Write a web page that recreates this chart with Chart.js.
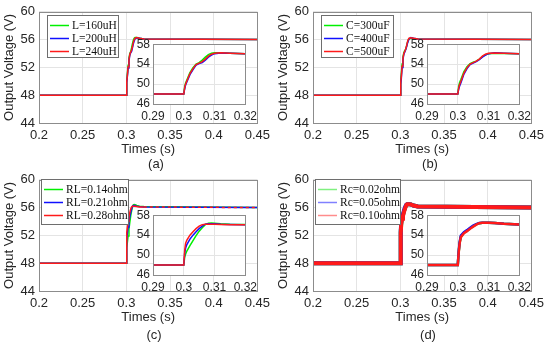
<!DOCTYPE html>
<html>
<head>
<meta charset="utf-8">
<script src="https://cdn.jsdelivr.net/npm/chart.js@4.4.1/dist/chart.umd.min.js"></script>
<style>
  body { margin: 0; background: #fff; }
  #fig { position: relative; width: 550px; height: 345px; overflow: hidden; }
  canvas { position: absolute; }
  .cap { position: absolute; width: 40px; text-align: center; font: 13px "Liberation Sans", Arial, sans-serif; line-height: 16px; color: #262626; }
</style>
</head>
<body>
<div id="fig">
  <canvas id="mainA" width="275" height="172" style="left:0px;top:0px"></canvas>
  <canvas id="mainB" width="275" height="172" style="left:274px;top:0px"></canvas>
  <canvas id="mainC" width="275" height="172" style="left:0px;top:168px"></canvas>
  <canvas id="mainD" width="275" height="172" style="left:274px;top:168px"></canvas>
  <canvas id="insetA" width="135" height="92" style="left:127px;top:34px"></canvas>
  <canvas id="insetB" width="135" height="92" style="left:401px;top:34px"></canvas>
  <canvas id="insetC" width="135" height="92" style="left:127px;top:205px"></canvas>
  <canvas id="insetD" width="135" height="92" style="left:401px;top:205px"></canvas>
  <div class="cap" id="capA" style="left:136px;top:156px"></div>
  <div class="cap" id="capB" style="left:410px;top:156px"></div>
  <div class="cap" id="capC" style="left:134px;top:327px"></div>
  <div class="cap" id="capD" style="left:408px;top:327px"></div>
</div>
<script>
// time points (s) shared by every series
var times = [0.2, 0.3, 0.3003, 0.3006, 0.301, 0.302, 0.303, 0.304, 0.305, 0.306, 0.307, 0.308, 0.309, 0.310, 0.312, 0.315, 0.32, 0.45];

// (a) inductance
var labelsA = ['L=160uH', 'L=200uH', 'L=240uH'];
var vL160 = [48, 48, 49.5, 50.2, 50.8, 52.3, 53.3, 54.0, 54.3, 54.8, 55.4, 55.9, 56.2, 56.3, 56.3, 56.2, 56.1, 56.0];
var vL200 = [48, 48, 49.1, 49.8, 50.4, 51.9, 52.9, 53.8, 54.1, 54.3, 54.8, 55.4, 55.8, 56.1, 56.25, 56.2, 56.1, 56.0];
var vL240 = [48, 48, 49.3, 50.0, 50.6, 52.1, 53.1, 53.9, 54.2, 54.5, 55.0, 55.6, 56.0, 56.2, 56.3, 56.2, 56.1, 56.0];

// (b) capacitance
var labelsB = ['C=300uF', 'C=400uF', 'C=500uF'];
var vC300 = [48, 48, 49.6, 50.3, 50.9, 52.5, 53.5, 54.1, 54.4, 54.6, 55.0, 55.5, 55.9, 56.1, 56.2, 56.15, 56.1, 56.0];
var vC400 = [48, 48, 49.0, 49.6, 50.2, 52.0, 53.1, 53.9, 54.2, 54.5, 54.9, 55.4, 55.8, 56.1, 56.3, 56.2, 56.1, 56.0];
var vC500 = [48, 48, 49.2, 49.9, 50.5, 52.2, 53.3, 54.0, 54.3, 54.6, 55.0, 55.6, 56.0, 56.2, 56.25, 56.2, 56.1, 56.0];

// (c) inductor resistance
var labelsC = ['RL=0.14ohm', 'RL=0.21ohm', 'RL=0.28ohm'];
var vRL14 = [48, 48, 49.6, 50.2, 50.8, 51.9, 52.9, 53.9, 54.8, 55.5, 56.1, 56.4, 56.45, 56.4, 56.3, 56.2, 56.15, 56.0];
var vRL21 = [48, 48, 50.4, 51.4, 52.1, 53.2, 54.0, 54.7, 55.3, 55.8, 56.2, 56.3, 56.3, 56.3, 56.2, 56.15, 56.1, 56.0];
var vRL28 = [48, 48, 51.0, 52.4, 53.0, 54.0, 54.7, 55.3, 55.8, 56.1, 56.2, 56.2, 56.2, 56.2, 56.15, 56.1, 56.1, 56.0];

// (d) capacitor resistance
var labelsD = ['Rc=0.02ohm', 'Rc=0.05ohm', 'Rc=0.10ohm'];
var vRc02 = [48, 48, 50.6, 52.4, 53.7, 54.5, 54.9, 55.4, 55.8, 56.15, 56.4, 56.5, 56.5, 56.5, 56.45, 56.3, 56.15, 56.0];
var vRc05 = [48, 48, 50.8, 52.6, 53.9, 54.6, 55.0, 55.5, 55.9, 56.2, 56.45, 56.5, 56.5, 56.5, 56.45, 56.3, 56.15, 56.0];
var vRc10 = [48, 48, 50.5, 52.3, 53.6, 54.4, 54.8, 55.3, 55.7, 56.1, 56.4, 56.5, 56.5, 56.5, 56.45, 56.3, 56.15, 56.0];

var mainXTicks = [0.2, 0.25, 0.3, 0.35, 0.4, 0.45];
var mainYTicks = [44, 48, 52, 56, 60];
var insetXTicks = [0.29, 0.3, 0.31, 0.32];
var insetYTicks = [46, 50, 54, 58];
var captions = ['(a)', '(b)', '(c)', '(d)'];

var colors = ['#00f000', '#1010ff', '#ff1a1a'];
var paleColors = ['#80f080', '#8080ff', '#ff8c8c'];
var sans = '"Liberation Sans", Arial, sans-serif';
var serif = '"Liberation Serif", "Times New Roman", serif';

var boxPlugin = {
  id: 'box',
  beforeDraw: function(chart) {
    var a = chart.chartArea, ctx = chart.ctx;
    ctx.save();
    ctx.fillStyle = '#fff';
    ctx.fillRect(a.left, a.top, a.right - a.left, a.bottom - a.top);
    ctx.restore();
  },
  afterDatasetsDraw: function(chart, args, opts) {
    var a = chart.chartArea, ctx = chart.ctx;
    ctx.save();
    ctx.strokeStyle = '#8c8c8c';
    ctx.lineWidth = 1;
    ctx.strokeRect(Math.round(a.left) + 0.5, Math.round(a.top) + 0.5, Math.round(a.right - a.left), Math.round(a.bottom - a.top));
    var L = opts.legend;
    if (L) {
      ctx.fillStyle = '#fff';
      ctx.fillRect(L.x, L.y, L.w, L.h);
      ctx.strokeStyle = '#6e6e6e';
      ctx.strokeRect(L.x + 0.5, L.y + 0.5, L.w, L.h);
      ctx.font = '11.5px ' + serif;
      ctx.textBaseline = 'middle';
      chart.data.datasets.forEach(function(ds, i) {
        var y = L.y + 10.5 + i * 13;
        ctx.strokeStyle = L.colors[i];
        ctx.lineWidth = 1.5;
        ctx.beginPath();
        ctx.moveTo(L.x + 3, y);
        ctx.lineTo(L.x + 22, y);
        ctx.stroke();
        ctx.fillStyle = '#111';
        ctx.fillText(ds.label, L.x + 25, y + 0.5);
      });
    }
    ctx.restore();
  }
};

function makeDatasets(labels, series, width, dashTail) {
  return series.map(function(vals, i) {
    var ds = {
      label: labels[i],
      data: times.map(function(t, k) { return {x: t, y: vals[k]}; }),
      borderColor: colors[i],
      borderWidth: width,
      pointRadius: 0,
      tension: 0,
      fill: false,
      order: series.length - 1 - i   // last series (red) drawn on top
    };
    if (dashTail && i == 2) {
      ds.segment = { borderDash: function(ctx) { return ctx.p0.parsed.x >= 0.32 ? [3, 3] : undefined; } };
    }
    return ds;
  });
}

function axis(min, max, tickArr, size, fit, pad, isX, title) {
  var s = {
    type: 'linear', min: min, max: max,
    afterBuildTicks: function(sc) { sc.ticks = tickArr.map(function(v) { return {value: v}; }); },
    afterFit: function(sc) { if (isX) sc.height = fit; else sc.width = fit; },
    ticks: { callback: function(v) { return String(v); }, font: {family: sans, size: size}, color: '#262626', padding: pad, maxRotation: 0, autoSkip: false },
    grid: { color: '#e4e4e4', drawTicks: false },
    border: { display: false }
  };
  if (title) {
    s.title = { display: true, text: title, font: {family: sans, size: 13}, color: '#262626',
                padding: isX ? {top: 0, bottom: 15} : {top: 2, bottom: 0} };
  }
  return s;
}

function mainChart(id, labels, series, legendBox, legendColors, width, dashTail) {
  legendBox.colors = legendColors;
  new Chart(document.getElementById(id), {
    type: 'line',
    data: { datasets: makeDatasets(labels, series, width, dashTail) },
    options: {
      responsive: false, animation: false, events: [],
      layout: { padding: {top: 8, right: 14, left: 0, bottom: 0} },
      plugins: { legend: {display: false}, tooltip: {enabled: false}, box: {legend: legendBox} },
      scales: {
        x: axis(0.2, 0.45, mainXTicks, 13, 49, 5, true, 'Times (s)'),
        y: axis(44, 60, mainYTicks, 13, 39, 4, false, 'Output Voltage (V)')
      }
    },
    plugins: [boxPlugin]
  });
}

function insetChart(id, labels, series, width) {
  new Chart(document.getElementById(id), {
    type: 'line',
    data: { datasets: makeDatasets(labels, series, width, false) },
    options: {
      responsive: false, animation: false, events: [],
      layout: { padding: {top: 9, right: 14, left: 0, bottom: 0} },
      plugins: { legend: {display: false}, tooltip: {enabled: false}, box: {} },
      scales: {
        x: axis(0.29, 0.32, insetXTicks, 12, 22, 5, true, null),
        y: axis(46, 58, insetYTicks, 12, 26, 3, false, null)
      }
    },
    plugins: [boxPlugin]
  });
}

mainChart('mainA', labelsA, [vL160, vL200, vL240], {x: 47, y: 15, w: 71, h: 42}, colors, 1.5, false);
mainChart('mainB', labelsB, [vC300, vC400, vC500], {x: 47, y: 15, w: 72, h: 42}, colors, 1.5, false);
mainChart('mainC', labelsC, [vRL14, vRL21, vRL28], {x: 41, y: 11, w: 87, h: 45}, colors, 1.5, true);
mainChart('mainD', labelsD, [vRc02, vRc05, vRc10], {x: 41, y: 11, w: 85, h: 45}, paleColors, 4, false);

insetChart('insetA', labelsA, [vL160, vL200, vL240], 1.5);
insetChart('insetB', labelsB, [vC300, vC400, vC500], 1.5);
insetChart('insetC', labelsC, [vRL14, vRL21, vRL28], 1.5);
insetChart('insetD', labelsD, [vRc02, vRc05, vRc10], 2.5);

['capA', 'capB', 'capC', 'capD'].forEach(function(id, i) {
  document.getElementById(id).textContent = captions[i];
});
</script>
</body>
</html>
